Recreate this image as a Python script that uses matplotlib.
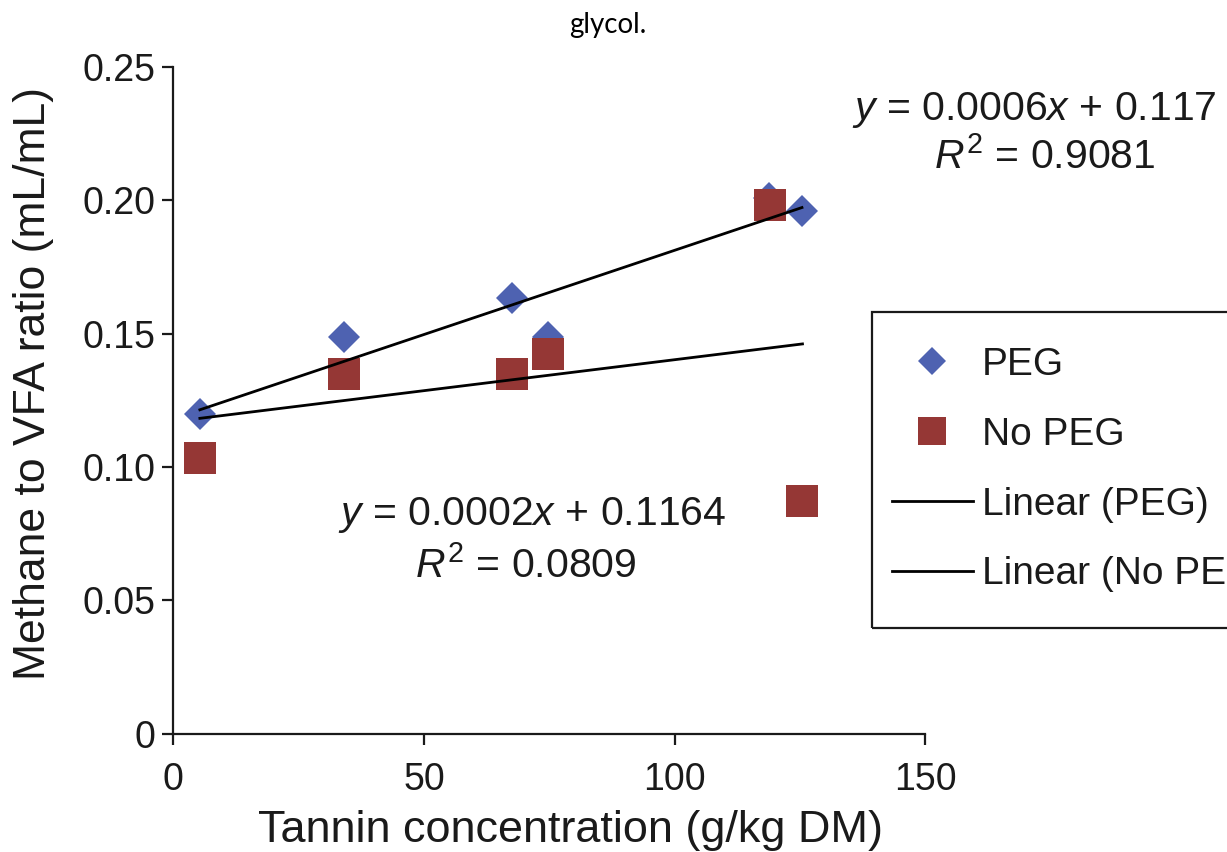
import numpy as np
import matplotlib
matplotlib.use('Agg')
import matplotlib.pyplot as plt
from matplotlib.lines import Line2D
from matplotlib.patches import Rectangle

plt.rcParams['font.family'] = ['Liberation Sans', 'DejaVu Sans']
plt.rcParams['mathtext.fontset'] = 'custom'
plt.rcParams['mathtext.rm'] = 'Liberation Sans'
plt.rcParams['mathtext.it'] = 'Liberation Sans:italic'

# ---------------- data ----------------
tannin_peg = [5.3, 34.05, 67.6, 74.7, 118.9, 125.4]
ratio_peg = [0.1197, 0.1488, 0.1635, 0.1486, 0.2010, 0.1959]
tannin_nopeg = [5.3, 34.1, 67.6, 74.8, 119.0, 125.5]
ratio_nopeg = [0.1033, 0.1349, 0.1348, 0.1424, 0.1982, 0.0873]

eq_peg = ["$y$ = 0.0006$x$ + 0.117", "$R^2$ = 0.9081"]
eq_nopeg = ["$y$ = 0.0002$x$ + 0.1164", "$R^2$ = 0.0809"]

x_ticks = [0, 50, 100, 150]
y_ticks = [0, 0.05, 0.10, 0.15, 0.20, 0.25]
y_tick_labels = ['0', '0.05', '0.10', '0.15', '0.20', '0.25']
legend_labels = ['PEG', 'No PEG', 'Linear (PEG)', 'Linear (No PEG)']
title_text = 'glycol.'
x_label = 'Tannin concentration (g/kg DM)'
y_label = 'Methane to VFA ratio (mL/mL)'

# ---------------- style ----------------
W, H = 1227, 852
BLUE = '#4E62B1'
RED = '#953735'
INK = '#1a1a1a'

fig = plt.figure(figsize=(W / 100, H / 100), dpi=100)
ax = fig.add_axes([173.3 / W, 1 - 733.5 / H, 752 / W, 666.5 / H])

def fx(px):
    return px / W

def fy(py):
    return 1 - py / H

# points
ax.plot(tannin_peg, ratio_peg, linestyle='none', marker='D', markersize=16.5,
        color=BLUE, markeredgewidth=0, zorder=3, clip_on=False)
ax.plot(tannin_nopeg, ratio_nopeg, linestyle='none', marker='s', markersize=23,
        color=RED, markeredgewidth=0, zorder=4, clip_on=False)

# linear trend lines (least squares)
for xs, ys in [(tannin_peg, ratio_peg), (tannin_nopeg, ratio_nopeg)]:
    xs = np.asarray(xs); ys = np.asarray(ys)
    m, b = np.polyfit(xs, ys, 1)
    xl = np.array([xs.min(), xs.max()])
    ax.plot(xl, m * xl + b, color='black', linewidth=2.0, zorder=5)

ax.set_xlim(0, 150)
ax.set_ylim(0, 0.25)
ax.set_xticks(x_ticks)
ax.set_xticklabels([str(t) for t in x_ticks])
ax.set_yticks(y_ticks)
ax.set_yticklabels(y_tick_labels)
for s in ['top', 'right']:
    ax.spines[s].set_visible(False)
for s in ['left', 'bottom']:
    ax.spines[s].set_linewidth(1.6)
    ax.spines[s].set_color(INK)
ax.tick_params(axis='both', direction='out', length=8, width=1.6, color=INK,
               labelsize=27, labelcolor=INK)
ax.tick_params(axis='x', pad=12.5)
ax.tick_params(axis='y', pad=5)

# axis labels
fig.text(fx(570), fy(842), x_label, ha='center', va='baseline', fontsize=32.4, color=INK)
fig.text(fx(34), fy(384), y_label, ha='center', va='center', rotation=90,
         fontsize=32, color=INK)

# caption fragment
fig.text(fx(608), fy(33), title_text, ha='center', va='baseline', fontsize=20,
         family=['Lato', 'DejaVu Sans'], color='black')

# equations
fig.text(fx(852), fy(120), eq_peg[0], ha='left', va='baseline', fontsize=29.5, color=INK)
fig.text(fx(1045), fy(169), eq_peg[1], ha='center', va='baseline', fontsize=29.5, color=INK)
fig.text(fx(532), fy(525), eq_nopeg[0], ha='center', va='baseline', fontsize=29.5, color=INK)
fig.text(fx(526), fy(578), eq_nopeg[1], ha='center', va='baseline', fontsize=29.5, color=INK)

# legend
handles = [
    Line2D([], [], linestyle='none', marker='D', markersize=14.3, color=BLUE, markeredgewidth=0),
    Line2D([], [], linestyle='none', marker='s', markersize=20, color=RED, markeredgewidth=0),
    Line2D([], [], color='black', linewidth=2.0),
    Line2D([], [], color='black', linewidth=2.0),
]
fig.legend(handles, legend_labels, loc='upper left',
           bbox_to_anchor=(fx(892), fy(347)), bbox_transform=fig.transFigure,
           frameon=False, borderpad=0, borderaxespad=0, fontsize=28,
           handlelength=2.08, handletextpad=0.23, labelspacing=0.87,
           labelcolor=INK)
fig.patches.append(Rectangle((fx(871.7), fy(628)), fx(1250) - fx(871.7), fy(312) - fy(628),
                             transform=fig.transFigure, fill=False,
                             edgecolor=INK, linewidth=1.6))

fig.savefig('out.png', dpi=100)
